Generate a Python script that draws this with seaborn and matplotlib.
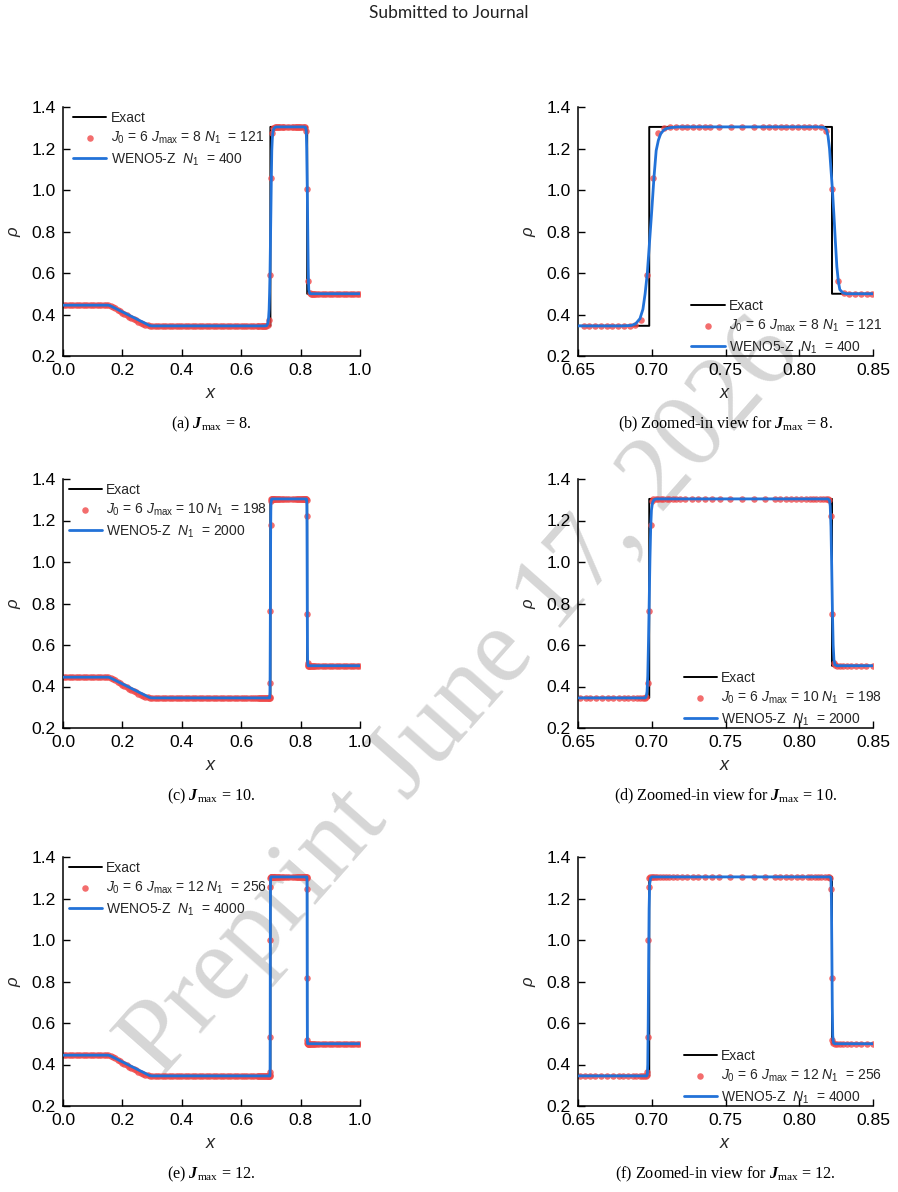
import numpy as np
import pandas as pd
import matplotlib
matplotlib.use("Agg")
import matplotlib.pyplot as plt
import seaborn as sns

# ---------------- data ----------------
# exact solution of the shock tube (density)
exact_x = [0.0, 0.155, 0.29, 0.6983, 0.6983, 0.8222, 0.8222, 1.0]
exact_rho = [0.445, 0.445, 0.3455, 0.3455, 1.304, 1.304, 0.5, 0.5]

# adaptive multiresolution points shared by all runs in smooth regions
smooth_left_x = [0.0039, 0.0117, 0.0195, 0.0273, 0.0352, 0.0430, 0.0508, 0.0586, 0.0664, 0.0742,
                 0.0820, 0.0898, 0.0977, 0.1055, 0.1133, 0.1211, 0.1289, 0.1367, 0.1445, 0.1523,
                 0.1602, 0.1680, 0.1758, 0.1836, 0.1914, 0.1992, 0.2070, 0.2148, 0.2227, 0.2305,
                 0.2383, 0.2461, 0.2539, 0.2617, 0.2695, 0.2773, 0.2852, 0.2930,
                 0.3008, 0.3086, 0.3164, 0.3242, 0.3320, 0.3398, 0.3477, 0.3555, 0.3633, 0.3711,
                 0.3789, 0.3867, 0.3945, 0.4023, 0.4102, 0.4180, 0.4258, 0.4336, 0.4414, 0.4492,
                 0.4570, 0.4648, 0.4727, 0.4805, 0.4883, 0.4961, 0.5039, 0.5117, 0.5195, 0.5273,
                 0.5352, 0.5430, 0.5508, 0.5586, 0.5664, 0.5742, 0.5820, 0.5898, 0.5977, 0.6055,
                 0.6133, 0.6211, 0.6289, 0.6367, 0.6445]
smooth_left_rho = [0.445, 0.445, 0.445, 0.445, 0.445, 0.445, 0.445, 0.445, 0.445, 0.445,
                   0.445, 0.445, 0.445, 0.445, 0.445, 0.445, 0.445, 0.445, 0.445, 0.445,
                   0.441, 0.435, 0.429, 0.422, 0.415, 0.409, 0.402, 0.396, 0.390, 0.384,
                   0.378, 0.372, 0.366, 0.361, 0.356, 0.351, 0.347, 0.345,
                   0.345, 0.345, 0.345, 0.345, 0.345, 0.345, 0.345, 0.345, 0.345, 0.345,
                   0.345, 0.345, 0.345, 0.345, 0.345, 0.345, 0.345, 0.345, 0.345, 0.345,
                   0.345, 0.345, 0.345, 0.345, 0.345, 0.345, 0.345, 0.345, 0.345, 0.345,
                   0.345, 0.345, 0.345, 0.345, 0.345, 0.345, 0.345, 0.345, 0.345, 0.345,
                   0.345, 0.345, 0.345, 0.345, 0.345]
smooth_right_x = [0.8555, 0.8633, 0.8711, 0.8789, 0.8867, 0.8945, 0.9023, 0.9102, 0.9180, 0.9258,
                  0.9336, 0.9414, 0.9492, 0.9570, 0.9648, 0.9727, 0.9805, 0.9883, 0.9961]
smooth_right_rho = [0.5, 0.5, 0.5, 0.5, 0.5, 0.5, 0.5, 0.5, 0.5, 0.5,
                    0.5, 0.5, 0.5, 0.5, 0.5, 0.5, 0.5, 0.5, 0.5]

# J_max = 8 points near the contact / shock
mr8_x = [0.6538, 0.6577, 0.6616, 0.6655, 0.6694, 0.6733, 0.6772, 0.6811, 0.6850,
         0.6889, 0.6928, 0.6967, 0.7007, 0.7045, 0.7085,
         0.7124, 0.7163, 0.7202, 0.7241, 0.7280, 0.7320, 0.7359, 0.7398, 0.7457, 0.7536,
         0.7615, 0.7694, 0.7757, 0.7796, 0.7835, 0.7874, 0.7913, 0.7952, 0.7991, 0.8030,
         0.8069, 0.8108, 0.8147,
         0.8184, 0.8223, 0.8262, 0.8301,
         0.8340, 0.8379, 0.8418, 0.8457, 0.8496]
mr8_rho = [0.345, 0.345, 0.345, 0.345, 0.345, 0.345, 0.345, 0.345, 0.345,
           0.348, 0.372, 0.588, 1.058, 1.273, 1.300,
           1.303, 1.303, 1.303, 1.303, 1.303, 1.303, 1.303, 1.303, 1.303, 1.303,
           1.303, 1.303, 1.303, 1.303, 1.303, 1.303, 1.303, 1.303, 1.303, 1.303,
           1.303, 1.303, 1.302,
           1.285, 1.003, 0.561, 0.502,
           0.500, 0.500, 0.500, 0.500, 0.500]

# J_max = 10
mr10_x = [0.6511, 0.6552, 0.6583, 0.6624, 0.6662, 0.6700, 0.6737, 0.6775, 0.6809, 0.6842,
          0.6876, 0.6899, 0.6921, 0.6944, 0.6953, 0.6963, 0.6973, 0.6983, 0.6993, 0.7002,
          0.7011, 0.7029, 0.7045, 0.7061, 0.7079, 0.7102, 0.7120, 0.7142, 0.7165, 0.7192,
          0.7226, 0.7271, 0.7316, 0.7361, 0.7406, 0.7462, 0.7530, 0.7615, 0.7694, 0.7766,
          0.7834, 0.7868, 0.7908, 0.7947, 0.7981, 0.8014, 0.8048, 0.8071, 0.8094, 0.8116,
          0.8139, 0.8161, 0.8184, 0.8193, 0.8202, 0.8213, 0.8224, 0.8235, 0.8245, 0.8255,
          0.8273, 0.8296, 0.8323, 0.8352, 0.8386, 0.8420, 0.8453, 0.8498]
mr10_rho = [0.345, 0.345, 0.345, 0.345, 0.345, 0.345, 0.345, 0.345, 0.345, 0.345,
            0.345, 0.345, 0.345, 0.345, 0.345, 0.347, 0.417, 0.762, 1.179, 1.294,
            1.303, 1.304, 1.304, 1.304, 1.304, 1.304, 1.304, 1.304, 1.304, 1.304,
            1.304, 1.304, 1.304, 1.304, 1.304, 1.304, 1.304, 1.304, 1.304, 1.304,
            1.304, 1.304, 1.304, 1.304, 1.304, 1.304, 1.304, 1.304, 1.304, 1.304,
            1.304, 1.304, 1.304, 1.304, 1.300, 1.222, 0.749, 0.513, 0.502, 0.500,
            0.500, 0.500, 0.500, 0.500, 0.500, 0.500, 0.500, 0.500]

# J_max = 12
mr12_x = [0.6516, 0.6550, 0.6583, 0.6617, 0.6655, 0.6696, 0.6736, 0.6775, 0.6808, 0.6842,
          0.6872, 0.6894, 0.6917, 0.6932, 0.6948, 0.6962, 0.6968, 0.6971, 0.6974, 0.6977,
          0.6980, 0.6983, 0.6988, 0.7000, 0.7011, 0.7023, 0.7038, 0.7056, 0.7074, 0.7097,
          0.7120, 0.7146, 0.7174, 0.7203, 0.7237, 0.7277, 0.7316, 0.7361, 0.7406, 0.7458,
          0.7530, 0.7615, 0.7694, 0.7766, 0.7834, 0.7868, 0.7908, 0.7947, 0.7985, 0.8021,
          0.8059, 0.8082, 0.8105, 0.8127, 0.8150, 0.8172, 0.8195, 0.8205, 0.8211, 0.8216,
          0.8219, 0.8222, 0.8227, 0.8240, 0.8255, 0.8273, 0.8296, 0.8323, 0.8352, 0.8386,
          0.8420, 0.8459, 0.8498]
mr12_rho = [0.345, 0.345, 0.345, 0.345, 0.345, 0.345, 0.345, 0.345, 0.345, 0.345,
            0.345, 0.345, 0.345, 0.345, 0.345, 0.346, 0.350, 0.363, 0.531, 0.999,
            1.255, 1.298, 1.304, 1.304, 1.304, 1.304, 1.304, 1.304, 1.304, 1.304,
            1.304, 1.304, 1.304, 1.304, 1.304, 1.304, 1.304, 1.304, 1.304, 1.304,
            1.304, 1.304, 1.304, 1.304, 1.304, 1.304, 1.304, 1.304, 1.304, 1.304,
            1.304, 1.304, 1.304, 1.304, 1.304, 1.304, 1.304, 1.304, 1.300, 1.247,
            0.816, 0.519, 0.502, 0.500, 0.500, 0.500, 0.500, 0.500, 0.500, 0.500,
            0.500, 0.500, 0.500]

# WENO5-Z reference curves
weno_left_x = [0.0, 0.150, 0.156, 0.162, 0.290, 0.294, 0.300, 0.660]
weno_left_rho = [0.445, 0.445, 0.444, 0.440, 0.348, 0.346, 0.345, 0.345]
weno_right_x = [0.860, 1.0]
weno_right_rho = [0.500, 0.500]

weno400_x = [0.680, 0.686, 0.689, 0.692, 0.694, 0.6955, 0.697, 0.6985, 0.700, 0.7015,
             0.703, 0.7045, 0.706, 0.708, 0.710, 0.713, 0.718,
             0.812, 0.8165, 0.8185, 0.8195, 0.8205, 0.8215, 0.8225, 0.8235, 0.8245,
             0.8255, 0.8265, 0.8275, 0.8295, 0.832]
weno400_rho = [0.345, 0.347, 0.355, 0.380, 0.425, 0.500, 0.600, 0.750, 0.900, 1.060,
               1.190, 1.240, 1.270, 1.288, 1.296, 1.301, 1.304,
               1.304, 1.302, 1.290, 1.260, 1.200, 1.100, 1.000, 0.880, 0.750,
               0.630, 0.560, 0.520, 0.505, 0.500]

weno2000_x = [0.690, 0.6955, 0.6962, 0.6968, 0.6973, 0.6978, 0.6983, 0.6988, 0.6993, 0.6998,
              0.7005, 0.7015, 0.703,
              0.8195, 0.8205, 0.8210, 0.8215, 0.8220, 0.8225, 0.8230, 0.8235, 0.8242, 0.8255]
weno2000_rho = [0.345, 0.345, 0.350, 0.375, 0.450, 0.620, 0.820, 1.020, 1.170, 1.250,
                1.285, 1.300, 1.304,
                1.304, 1.298, 1.270, 1.170, 0.980, 0.760, 0.600, 0.530, 0.505, 0.500]

weno4000_x = [0.690, 0.6965, 0.6970, 0.6973, 0.6976, 0.6979, 0.6982, 0.6986, 0.6992, 0.7000,
              0.8210, 0.8215, 0.8218, 0.8221, 0.8224, 0.8227, 0.8232, 0.8240]
weno4000_rho = [0.345, 0.345, 0.350, 0.400, 0.600, 0.900, 1.150, 1.270, 1.298, 1.304,
                1.304, 1.295, 1.200, 0.950, 0.680, 0.540, 0.505, 0.500]

jmax_levels = [8, 10, 12]
n1_adaptive = [121, 198, 256]
n1_weno = [400, 2000, 4000]
panel_letters = [("a", "b"), ("c", "d"), ("e", "f")]
full_xticks = [0.0, 0.2, 0.4, 0.6, 0.8, 1.0]
zoom_xticks = [0.65, 0.70, 0.75, 0.80, 0.85]
yticks = [0.2, 0.4, 0.6, 0.8, 1.0, 1.2, 1.4]

mr_sets = [(mr8_x, mr8_rho), (mr10_x, mr10_rho), (mr12_x, mr12_rho)]
weno_sets = [(weno400_x, weno400_rho), (weno2000_x, weno2000_rho), (weno4000_x, weno4000_rho)]

# ---------------- style ----------------
sns.set_theme(style="ticks")
plt.rcParams["font.family"] = ["Liberation Sans", "DejaVu Sans"]
plt.rcParams["mathtext.fontset"] = "custom"
plt.rcParams["mathtext.rm"] = "Liberation Sans"
plt.rcParams["mathtext.it"] = "Liberation Sans:italic"
plt.rcParams["mathtext.sf"] = "Liberation Serif"
plt.rcParams["mathtext.bf"] = "Liberation Serif:italic:bold"

RED = "#f04848"
BLUE = "#2272d8"

fig = plt.figure(figsize=(8.98, 11.92), dpi=100)

# watermark (behind axes)
fig.text(462 / 898, 1 - 700 / 1192, "Preprint June 17, 2026", family="Liberation Serif",
         fontsize=77, color="#d6d6d6", rotation=48.5, ha="center", va="center",
         rotation_mode="anchor", zorder=-1)
fig.text(0.5, 1 - 13 / 1192, "Submitted to Journal", family="Lato", fontsize=12.5,
         color="#222222", ha="center", va="center")

row_bottoms_px = [356, 728, 1106]
col_left_px = [63, 578]
col_width_px = [297, 295]
ax_h_px = 249

for r in range(3):
    mx, mrho = mr_sets[r]
    wx, wrho = weno_sets[r]
    pts = pd.DataFrame({"x": smooth_left_x + mx + smooth_right_x,
                        "rho": smooth_left_rho + mrho + smooth_right_rho})
    weno = pd.DataFrame({"x": weno_left_x + wx + weno_right_x,
                         "rho": weno_left_rho + wrho + weno_right_rho})
    exact = pd.DataFrame({"x": exact_x, "rho": exact_rho})
    for c in range(2):
        left = col_left_px[c] / 898
        bottom = 1 - row_bottoms_px[r] / 1192
        ax = fig.add_axes([left, bottom, col_width_px[c] / 898, ax_h_px / 1192])
        ax.set_facecolor("none")
        sns.lineplot(data=exact, x="x", y="rho", ax=ax, estimator=None, sort=False,
                     color="black", linewidth=1.4, zorder=1, legend=False)
        sns.scatterplot(data=pts, x="x", y="rho", ax=ax, color=RED, s=22, linewidth=0,
                        alpha=0.8, zorder=2, legend=False)
        sns.lineplot(data=weno, x="x", y="rho", ax=ax, estimator=None, sort=False,
                     color=BLUE, linewidth=2.0, zorder=3, legend=False)
        h_exact = ax.lines[0]
        h_pts = ax.collections[0]
        h_weno = ax.lines[1]
        labels = ["Exact",
                  r"$J_0$ = 6 $J_{\mathrm{max}}$ = %d $N_1$  = %d" % (jmax_levels[r], n1_adaptive[r]),
                  r"WENO5-Z  $N_1$  = %d" % n1_weno[r]]
        if c == 0:
            ax.set_xlim(0.0, 1.0)
            ax.set_xticks(full_xticks)
            ax.set_xticklabels(["%.1f" % t for t in full_xticks])
            ax.legend([h_exact, h_pts, h_weno], labels, loc="upper left",
                      bbox_to_anchor=(0.02 if r == 0 else 0.005, 1.0),
                      borderaxespad=0, frameon=False, fontsize=10,
                      handlelength=2.4, handletextpad=0.3, labelspacing=0.35,
                      borderpad=0.3, scatterpoints=1, markerscale=1.0)
        else:
            ax.set_xlim(0.65, 0.85)
            ax.set_xticks(zoom_xticks)
            ax.set_xticklabels(["%.2f" % t for t in zoom_xticks])
            ax.legend([h_exact, h_pts, h_weno], labels, loc="lower right",
                      bbox_to_anchor=(1.045, -0.015),
                      borderaxespad=0, frameon=False, fontsize=10,
                      handlelength=2.4, handletextpad=0.3, labelspacing=0.35,
                      borderpad=0.3, scatterpoints=1, markerscale=1.0)
        ax.set_ylim(0.2, 1.4)
        ax.set_yticks(yticks)
        ax.set_yticklabels(["%.1f" % t for t in yticks])
        ax.tick_params(direction="in", length=5, width=1.0, labelsize=12.6, pad=5,
                       colors="black")
        for s in ["left", "bottom"]:
            ax.spines[s].set_linewidth(1.1)
            ax.spines[s].set_color("black")
        sns.despine(ax=ax)
        ax.set_xlabel(r"$x$", fontsize=13, labelpad=5)
        ax.set_ylabel(r"$\rho$", fontsize=12, labelpad=6)
        ax.grid(False)
        # caption
        cx = (col_left_px[c] + col_width_px[c] / 2) / 898
        cy = 1 - (row_bottoms_px[r] + 68) / 1192
        letter = panel_letters[r][c]
        if c == 0:
            cap = r"(%s) $\mathbf{J}_{\mathsf{max}}$ = %d." % (letter, jmax_levels[r])
        else:
            cap = r"(%s) Zoomed-in view for $\mathbf{J}_{\mathsf{max}}$ = %d." % (letter, jmax_levels[r])
        fig.text(cx, cy, cap, family="Liberation Serif", fontsize=11.6, ha="center",
                 va="center", color="black")

fig.savefig("out.png", dpi=100)
